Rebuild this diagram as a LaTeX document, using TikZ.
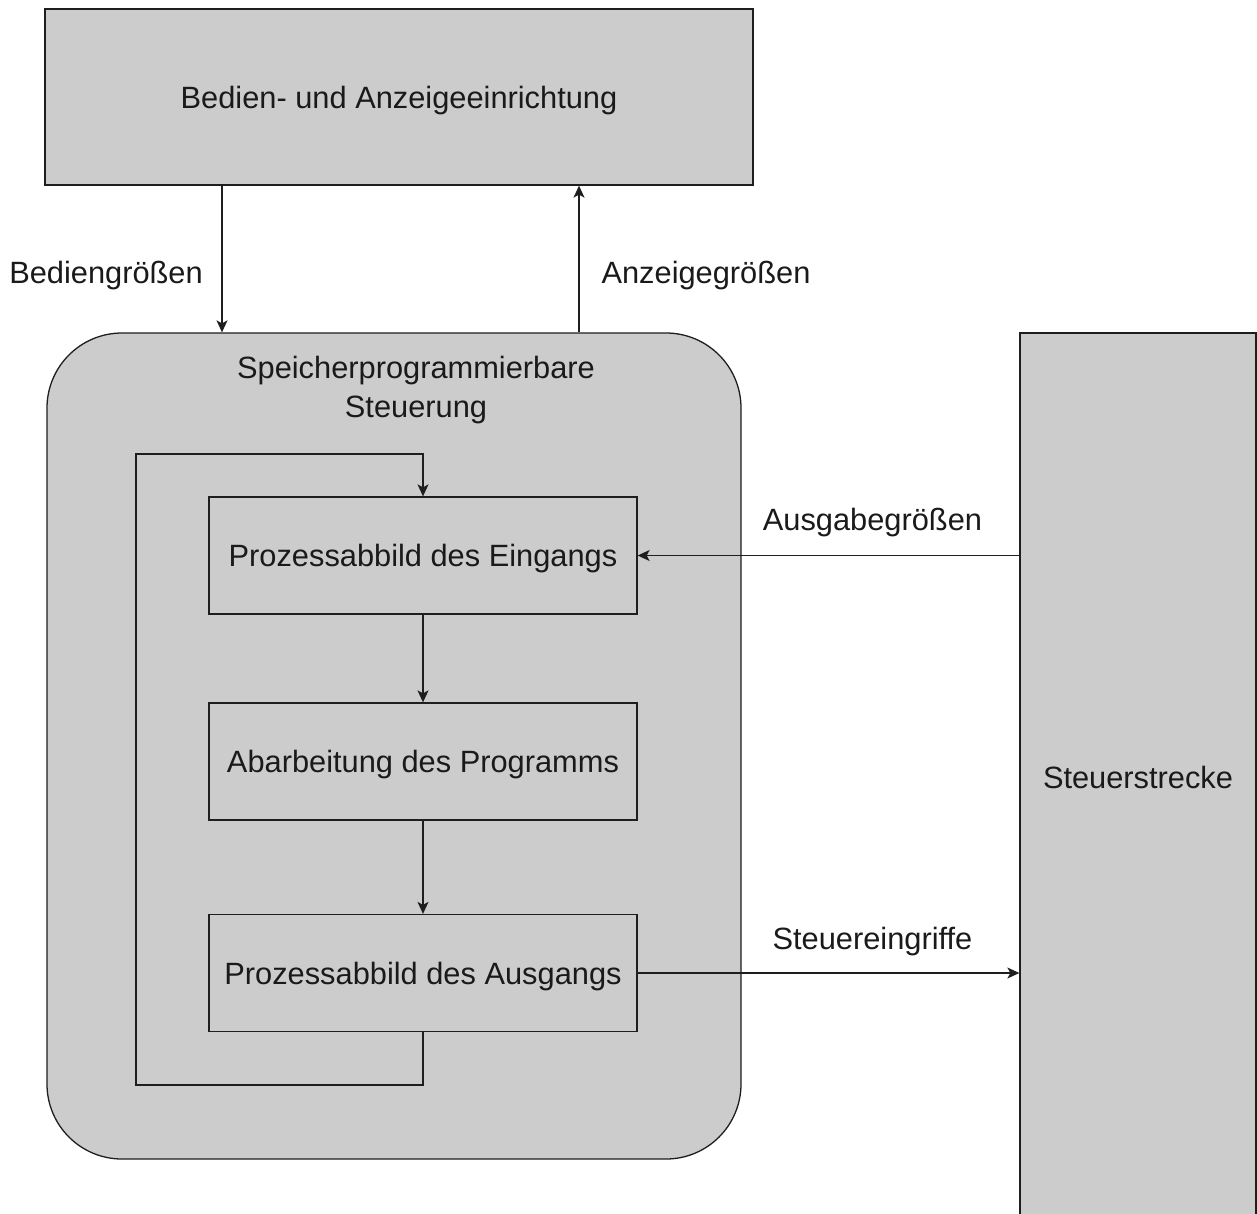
\documentclass[tikz,border=0pt]{standalone}
\usepackage{fontspec}
\setmainfont{Liberation Sans}
\usetikzlibrary{arrows.meta}
\definecolor{boxfill}{HTML}{CCCCCC}
\definecolor{linecol}{HTML}{1E1E1E}
\definecolor{txtcol}{HTML}{1A1A1A}
\begin{document}
\begin{tikzpicture}[x=1pt,y=-1pt,
  every node/.style={font=\fontsize{30.8}{39}\selectfont, text=txtcol, inner sep=0pt},
  box/.style={draw=linecol, fill=boxfill, line width=1.3pt, text height=22pt, text depth=0pt},
  procbox/.style={box, minimum width=428pt, minimum height=117pt},
  arr/.style={draw=linecol, line width=1.3pt, -{Stealth[length=12pt,width=11pt,inset=3pt]}},
  lbl/.style={anchor=base}]
\useasboundingbox (0,0) rectangle (1257,1213);

% operator panel
\node[box, minimum width=708pt, minimum height=176pt] (bed) at (399,97) {Bedien- und Anzeigeeinrichtung};

% PLC with its scan cycle
\node[box, rounded corners=75pt, minimum width=694pt, minimum height=826pt] (sps) at (394,746) {};
\node[lbl, align=center] (spstitle) at (416,417) {Speicherprogrammierbare\\Steuerung};
\node[procbox] (ein) at (423,555.5) {Prozessabbild des Eingangs};
\node[procbox] (abw) at (423,761.5) {Abarbeitung des Programms};
\node[procbox] (aus) at (423,973) {Prozessabbild des Ausgangs};

% controlled system, running off the page
\begin{scope}
  \clip (0,0) rectangle (1257,1213);
  \node[box, minimum width=236pt, minimum height=888pt] (str) at (1138,777) {Steuerstrecke};
\end{scope}

% signal paths
\coordinate (xb) at (222,0);
\coordinate (xa) at (579,0);
\draw[arr] (bed.south -| xb) -- (sps.north -| xb);
\draw[arr] (sps.north -| xa) -- (bed.south -| xa);
\draw[arr] (ein.south) -- (abw.north);
\draw[arr] (abw.south) -- (aus.north);
\draw[arr] (str.west |- ein.east) -- (ein.east);
\draw[arr] (aus.east) -- (str.west |- aus.east);

% cycle back to the input image
\coordinate (lpA) at (136,1085);
\coordinate (lpB) at (136,454);
\draw[arr] (aus.south) |- (lpA) -- (lpB) -| (ein.north);

% signal labels
\node[lbl] (lbed) at (106,283) {Bediengrößen};
\node[lbl] (lanz) at (706,283) {Anzeigegrößen};
\node[lbl] (laus) at (872.5,530) {Ausgabegrößen};
\node[lbl] (lst) at (872.5,949) {Steuereingriffe};
\end{tikzpicture}
\end{document}
